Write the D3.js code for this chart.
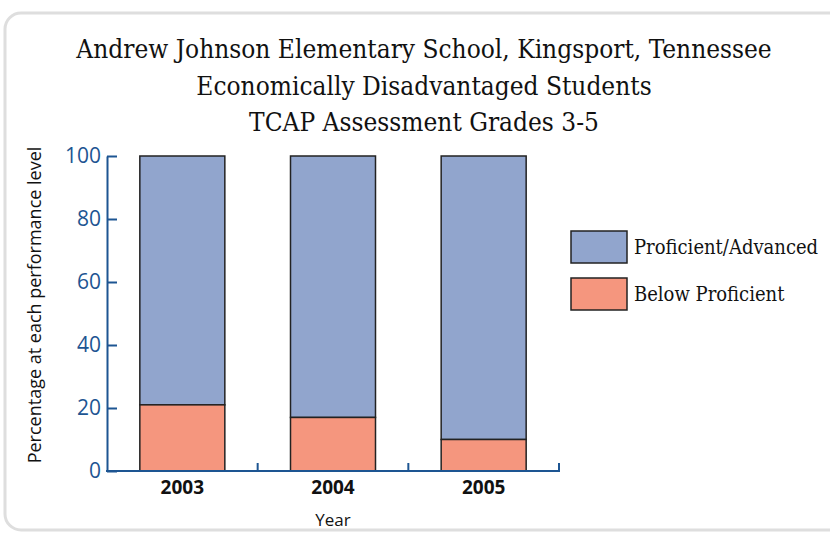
<!DOCTYPE html>
<html>
<head>
<meta charset="utf-8">
<script src="https://cdn.jsdelivr.net/npm/d3@7"></script>
<style>
  body { margin: 0; background: #fff; }
  svg { display: block; }
</style>
</head>
<body>
<svg id="chart" width="830" height="535"></svg>
<script>
// data
const years = ["2003", "2004", "2005"];
const belowProficient = [21, 17, 10];
const proficientAdvanced = [79, 83, 90];
const yTicks = [0, 20, 40, 60, 80, 100];
const seriesNames = ["Proficient/Advanced", "Below Proficient"];
const titleLines = [
  "Andrew Johnson Elementary School, Kingsport, Tennessee",
  "Economically Disadvantaged Students",
  "TCAP Assessment Grades 3-5"
];

const blue = "#91a5cd", salmon = "#f5967e", axisCol = "#1d5592";
const serif = "'DejaVu Serif Condensed', 'DejaVu Serif', serif";
const sans = "'Open Sans', 'Noto Sans', sans-serif";

const svg = d3.select("#chart");

// card border
svg.append("rect")
  .attr("x", 5).attr("y", 13)
  .attr("width", 860).attr("height", 517)
  .attr("rx", 16).attr("ry", 16)
  .attr("fill", "#fff")
  .attr("stroke", "#dedede")
  .attr("stroke-width", 3);

// title
svg.append("g").selectAll("text")
  .data(titleLines)
  .enter()
  .append("text")
  .attr("x", 424)
  .attr("y", (d, i) => 58 + i * 36.5)
  .attr("text-anchor", "middle")
  .attr("font-family", serif)
  .attr("font-size", 26)
  .attr("fill", "#111")
  .text(d => d);

const plotL = 107, plotR = 559, plotT = 156, plotB = 471;

const x = d3.scaleBand().domain(years).range([plotL, plotR]).padding(0);
const y = d3.scaleLinear().domain([0, 100]).range([plotB, plotT]);
const barW = 85;

const rows = years.map((yr, i) => ({ year: yr, below: belowProficient[i], prof: proficientAdvanced[i] }));

// bars
const bars = svg.append("g").selectAll("g")
  .data(rows)
  .enter()
  .append("g");

bars.append("rect")
  .attr("x", d => x(d.year) + (x.bandwidth() - barW) / 2)
  .attr("y", d => y(d.below + d.prof))
  .attr("width", barW)
  .attr("height", d => y(d.below) - y(d.below + d.prof))
  .attr("fill", blue)
  .attr("stroke", "#222")
  .attr("stroke-width", 1.5);

bars.append("rect")
  .attr("x", d => x(d.year) + (x.bandwidth() - barW) / 2)
  .attr("y", d => y(d.below))
  .attr("width", barW)
  .attr("height", d => y(0) - y(d.below))
  .attr("fill", salmon)
  .attr("stroke", "#222")
  .attr("stroke-width", 1.5);

// y axis
const yAxis = svg.append("g")
  .attr("transform", `translate(${plotL},0)`)
  .call(d3.axisRight(y).tickValues(yTicks).tickSize(10).tickSizeOuter(0));
yAxis.select(".domain").attr("stroke", axisCol).attr("stroke-width", 2);
yAxis.selectAll(".tick line").attr("stroke", axisCol).attr("stroke-width", 2);
yAxis.selectAll(".tick text")
  .attr("x", -6)
  .attr("text-anchor", "end")
  .attr("font-family", sans)
  .attr("font-size", 21)
  .attr("fill", axisCol);

// x axis: ticks at band boundaries pointing up
const xAxis = svg.append("g");
xAxis.append("line")
  .attr("x1", plotL - 1).attr("x2", plotR + 1)
  .attr("y1", plotB).attr("y2", plotB)
  .attr("stroke", axisCol).attr("stroke-width", 2);
xAxis.selectAll(".xtick")
  .data(years.slice(1).concat(["end"]))
  .enter()
  .append("line")
  .attr("class", "xtick")
  .attr("x1", d => d === "end" ? plotR : x(d))
  .attr("x2", d => d === "end" ? plotR : x(d))
  .attr("y1", plotB).attr("y2", plotB - 8)
  .attr("stroke", axisCol).attr("stroke-width", 2);

xAxis.selectAll(".xlab")
  .data(years)
  .enter()
  .append("text")
  .attr("class", "xlab")
  .attr("x", d => x(d) + x.bandwidth() / 2)
  .attr("y", 494)
  .attr("text-anchor", "middle")
  .attr("font-family", sans)
  .attr("font-weight", "bold")
  .attr("font-size", 19)
  .attr("fill", "#111")
  .text(d => d);

svg.append("text")
  .attr("x", 333).attr("y", 526)
  .attr("text-anchor", "middle")
  .attr("font-family", sans)
  .attr("font-size", 17)
  .attr("fill", "#111")
  .text("Year");

svg.append("text")
  .attr("transform", "translate(41,305) rotate(-90)")
  .attr("text-anchor", "middle")
  .attr("font-family", sans)
  .attr("font-size", 18)
  .attr("fill", "#111")
  .text("Percentage at each performance level");

// legend
const legend = svg.append("g").selectAll("g")
  .data(seriesNames)
  .enter()
  .append("g")
  .attr("transform", (d, i) => `translate(571,${231 + i * 47})`);
legend.append("rect")
  .attr("width", 56).attr("height", 32)
  .attr("fill", (d, i) => i === 0 ? blue : salmon)
  .attr("stroke", "#222").attr("stroke-width", 1.5);
legend.append("text")
  .attr("x", 63).attr("y", 23)
  .attr("font-family", serif)
  .attr("font-size", 20)
  .attr("fill", "#111")
  .text(d => d);
</script>
</body>
</html>
